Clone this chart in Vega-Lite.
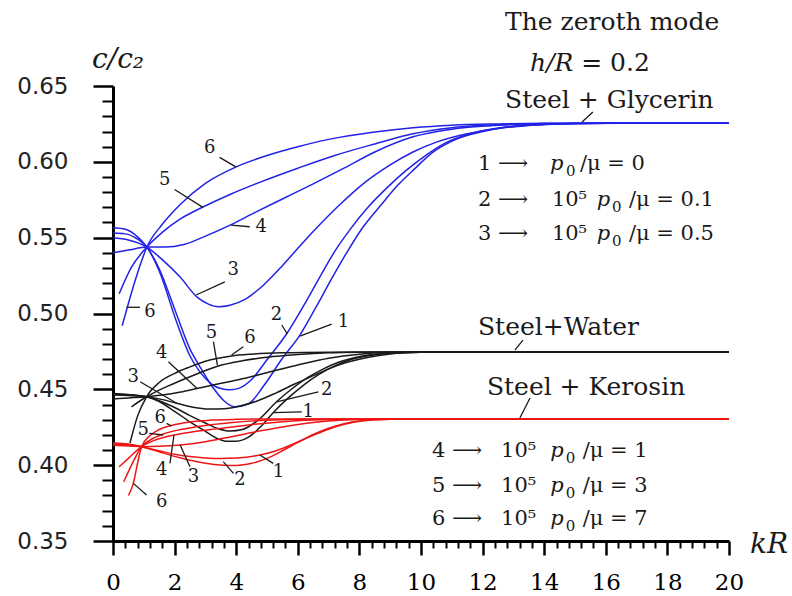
{
  "$schema": "https://vega.github.io/schema/vega-lite/v6.json",
  "width": 616,
  "height": 455,
  "autosize": "none",
  "padding": {"left": 113, "top": 86, "right": 63, "bottom": 55},
  "background": "white",
  "config": {"view": {"stroke": null}},
  "datasets": {
    "curves": [
      {"material":"Glycerin","curve":1,"kR":0,"c":0.5565},{"material":"Glycerin","curve":1,"kR":0.4,"c":0.5555},{"material":"Glycerin","curve":1,"kR":0.8,"c":0.5505},{"material":"Glycerin","curve":1,"kR":1.1,"c":0.5438},{"material":"Glycerin","curve":1,"kR":1.5,"c":0.5295},{"material":"Glycerin","curve":1,"kR":2.08,"c":0.4985},{"material":"Glycerin","curve":1,"kR":2.5,"c":0.4765},{"material":"Glycerin","curve":1,"kR":2.82,"c":0.465},{"material":"Glycerin","curve":1,"kR":3.2,"c":0.4525},{"material":"Glycerin","curve":1,"kR":3.6,"c":0.4425},{"material":"Glycerin","curve":1,"kR":3.96,"c":0.4385},{"material":"Glycerin","curve":1,"kR":4.4,"c":0.4405},{"material":"Glycerin","curve":1,"kR":4.9,"c":0.4525},{"material":"Glycerin","curve":1,"kR":5.5,"c":0.4705},{"material":"Glycerin","curve":1,"kR":6.07,"c":0.4858},{"material":"Glycerin","curve":1,"kR":6.6,"c":0.5045},{"material":"Glycerin","curve":1,"kR":7.1,"c":0.523},{"material":"Glycerin","curve":1,"kR":7.6,"c":0.5405},{"material":"Glycerin","curve":1,"kR":8.12,"c":0.557},{"material":"Glycerin","curve":1,"kR":8.7,"c":0.5715},{"material":"Glycerin","curve":1,"kR":9.22,"c":0.584},{"material":"Glycerin","curve":1,"kR":9.8,"c":0.5955},{"material":"Glycerin","curve":1,"kR":10.4,"c":0.6065},{"material":"Glycerin","curve":1,"kR":11.1,"c":0.6145},{"material":"Glycerin","curve":1,"kR":11.9,"c":0.6195},{"material":"Glycerin","curve":1,"kR":12.7,"c":0.6226},{"material":"Glycerin","curve":1,"kR":13.7,"c":0.6244},{"material":"Glycerin","curve":1,"kR":15,"c":0.6252},{"material":"Glycerin","curve":1,"kR":16.5,"c":0.6255},{"material":"Glycerin","curve":1,"kR":20,"c":0.6255},
      {"material":"Glycerin","curve":2,"kR":0,"c":0.553},{"material":"Glycerin","curve":2,"kR":0.4,"c":0.5525},{"material":"Glycerin","curve":2,"kR":0.8,"c":0.549},{"material":"Glycerin","curve":2,"kR":1.1,"c":0.5438},{"material":"Glycerin","curve":2,"kR":1.5,"c":0.528},{"material":"Glycerin","curve":2,"kR":2.08,"c":0.4935},{"material":"Glycerin","curve":2,"kR":2.5,"c":0.472},{"material":"Glycerin","curve":2,"kR":2.82,"c":0.4615},{"material":"Glycerin","curve":2,"kR":3.2,"c":0.4535},{"material":"Glycerin","curve":2,"kR":3.5,"c":0.4505},{"material":"Glycerin","curve":2,"kR":3.8,"c":0.4497},{"material":"Glycerin","curve":2,"kR":4.1,"c":0.4508},{"material":"Glycerin","curve":2,"kR":4.5,"c":0.4565},{"material":"Glycerin","curve":2,"kR":5,"c":0.4695},{"material":"Glycerin","curve":2,"kR":5.65,"c":0.487},{"material":"Glycerin","curve":2,"kR":6.2,"c":0.5055},{"material":"Glycerin","curve":2,"kR":6.7,"c":0.5235},{"material":"Glycerin","curve":2,"kR":7.2,"c":0.541},{"material":"Glycerin","curve":2,"kR":7.7,"c":0.5555},{"material":"Glycerin","curve":2,"kR":8.3,"c":0.5705},{"material":"Glycerin","curve":2,"kR":8.9,"c":0.583},{"material":"Glycerin","curve":2,"kR":9.5,"c":0.594},{"material":"Glycerin","curve":2,"kR":10.1,"c":0.6035},{"material":"Glycerin","curve":2,"kR":10.8,"c":0.6125},{"material":"Glycerin","curve":2,"kR":11.6,"c":0.6185},{"material":"Glycerin","curve":2,"kR":12.4,"c":0.622},{"material":"Glycerin","curve":2,"kR":13.4,"c":0.6241},{"material":"Glycerin","curve":2,"kR":14.6,"c":0.6251},{"material":"Glycerin","curve":2,"kR":16,"c":0.6255},{"material":"Glycerin","curve":2,"kR":20,"c":0.6255},
      {"material":"Glycerin","curve":3,"kR":0,"c":0.5497},{"material":"Glycerin","curve":3,"kR":0.5,"c":0.5485},{"material":"Glycerin","curve":3,"kR":1.1,"c":0.5438},{"material":"Glycerin","curve":3,"kR":1.6,"c":0.5355},{"material":"Glycerin","curve":3,"kR":2.18,"c":0.524},{"material":"Glycerin","curve":3,"kR":2.73,"c":0.5108},{"material":"Glycerin","curve":3,"kR":3.1,"c":0.5062},{"material":"Glycerin","curve":3,"kR":3.41,"c":0.5045},{"material":"Glycerin","curve":3,"kR":3.8,"c":0.5055},{"material":"Glycerin","curve":3,"kR":4.3,"c":0.5095},{"material":"Glycerin","curve":3,"kR":4.9,"c":0.519},{"material":"Glycerin","curve":3,"kR":5.5,"c":0.5315},{"material":"Glycerin","curve":3,"kR":6.07,"c":0.5445},{"material":"Glycerin","curve":3,"kR":6.5,"c":0.554},{"material":"Glycerin","curve":3,"kR":7.3,"c":0.5705},{"material":"Glycerin","curve":3,"kR":8.12,"c":0.5855},{"material":"Glycerin","curve":3,"kR":9,"c":0.598},{"material":"Glycerin","curve":3,"kR":9.74,"c":0.6065},{"material":"Glycerin","curve":3,"kR":10.5,"c":0.613},{"material":"Glycerin","curve":3,"kR":11.5,"c":0.6185},{"material":"Glycerin","curve":3,"kR":12.5,"c":0.622},{"material":"Glycerin","curve":3,"kR":13.5,"c":0.624},{"material":"Glycerin","curve":3,"kR":14.7,"c":0.6251},{"material":"Glycerin","curve":3,"kR":16,"c":0.6255},{"material":"Glycerin","curve":3,"kR":20,"c":0.6255},
      {"material":"Glycerin","curve":4,"kR":0,"c":0.54},{"material":"Glycerin","curve":4,"kR":0.5,"c":0.5418},{"material":"Glycerin","curve":4,"kR":1.1,"c":0.5438},{"material":"Glycerin","curve":4,"kR":1.7,"c":0.5438},{"material":"Glycerin","curve":4,"kR":2.3,"c":0.5455},{"material":"Glycerin","curve":4,"kR":3,"c":0.551},{"material":"Glycerin","curve":4,"kR":3.8,"c":0.5583},{"material":"Glycerin","curve":4,"kR":4.6,"c":0.5665},{"material":"Glycerin","curve":4,"kR":5.5,"c":0.5755},{"material":"Glycerin","curve":4,"kR":6.5,"c":0.5855},{"material":"Glycerin","curve":4,"kR":7.5,"c":0.5958},{"material":"Glycerin","curve":4,"kR":8.5,"c":0.6065},{"material":"Glycerin","curve":4,"kR":9.74,"c":0.6165},{"material":"Glycerin","curve":4,"kR":11,"c":0.6215},{"material":"Glycerin","curve":4,"kR":12.2,"c":0.6237},{"material":"Glycerin","curve":4,"kR":13.5,"c":0.6249},{"material":"Glycerin","curve":4,"kR":15,"c":0.6254},{"material":"Glycerin","curve":4,"kR":16,"c":0.6255},{"material":"Glycerin","curve":4,"kR":20,"c":0.6255},
      {"material":"Glycerin","curve":5,"kR":0.2,"c":0.513},{"material":"Glycerin","curve":5,"kR":0.6,"c":0.5305},{"material":"Glycerin","curve":5,"kR":1.1,"c":0.5438},{"material":"Glycerin","curve":5,"kR":1.6,"c":0.5535},{"material":"Glycerin","curve":5,"kR":2.2,"c":0.5625},{"material":"Glycerin","curve":5,"kR":2.92,"c":0.5702},{"material":"Glycerin","curve":5,"kR":3.8,"c":0.5785},{"material":"Glycerin","curve":5,"kR":4.8,"c":0.5868},{"material":"Glycerin","curve":5,"kR":6,"c":0.5958},{"material":"Glycerin","curve":5,"kR":7.2,"c":0.6042},{"material":"Glycerin","curve":5,"kR":8.5,"c":0.6118},{"material":"Glycerin","curve":5,"kR":9.74,"c":0.6185},{"material":"Glycerin","curve":5,"kR":11,"c":0.6225},{"material":"Glycerin","curve":5,"kR":12.5,"c":0.6245},{"material":"Glycerin","curve":5,"kR":14,"c":0.6252},{"material":"Glycerin","curve":5,"kR":15.5,"c":0.6255},{"material":"Glycerin","curve":5,"kR":20,"c":0.6255},
      {"material":"Glycerin","curve":6,"kR":0.3,"c":0.492},{"material":"Glycerin","curve":6,"kR":0.7,"c":0.5205},{"material":"Glycerin","curve":6,"kR":1.1,"c":0.5438},{"material":"Glycerin","curve":6,"kR":1.6,"c":0.5588},{"material":"Glycerin","curve":6,"kR":2.2,"c":0.5722},{"material":"Glycerin","curve":6,"kR":3,"c":0.5858},{"material":"Glycerin","curve":6,"kR":4,"c":0.5967},{"material":"Glycerin","curve":6,"kR":5,"c":0.6042},{"material":"Glycerin","curve":6,"kR":6,"c":0.61},{"material":"Glycerin","curve":6,"kR":7,"c":0.6148},{"material":"Glycerin","curve":6,"kR":8.5,"c":0.6197},{"material":"Glycerin","curve":6,"kR":9.74,"c":0.6225},{"material":"Glycerin","curve":6,"kR":11,"c":0.6242},{"material":"Glycerin","curve":6,"kR":12.5,"c":0.625},{"material":"Glycerin","curve":6,"kR":14,"c":0.6254},{"material":"Glycerin","curve":6,"kR":15.5,"c":0.6255},{"material":"Glycerin","curve":6,"kR":20,"c":0.6255},

      {"material":"Water","curve":1,"kR":0,"c":0.4472},{"material":"Water","curve":1,"kR":0.5,"c":0.4466},{"material":"Water","curve":1,"kR":1.09,"c":0.4451},{"material":"Water","curve":1,"kR":1.5,"c":0.442},{"material":"Water","curve":1,"kR":2,"c":0.4355},{"material":"Water","curve":1,"kR":2.5,"c":0.4285},{"material":"Water","curve":1,"kR":3,"c":0.4223},{"material":"Water","curve":1,"kR":3.4,"c":0.4175},{"material":"Water","curve":1,"kR":3.7,"c":0.4157},{"material":"Water","curve":1,"kR":4,"c":0.4158},{"material":"Water","curve":1,"kR":4.4,"c":0.4185},{"material":"Water","curve":1,"kR":4.8,"c":0.4255},{"material":"Water","curve":1,"kR":5.2,"c":0.4346},{"material":"Water","curve":1,"kR":5.7,"c":0.4445},{"material":"Water","curve":1,"kR":6.2,"c":0.453},{"material":"Water","curve":1,"kR":6.7,"c":0.46},{"material":"Water","curve":1,"kR":7.2,"c":0.4655},{"material":"Water","curve":1,"kR":7.7,"c":0.4695},{"material":"Water","curve":1,"kR":8.3,"c":0.4722},{"material":"Water","curve":1,"kR":9,"c":0.4738},{"material":"Water","curve":1,"kR":10,"c":0.4745},{"material":"Water","curve":1,"kR":11,"c":0.4746},{"material":"Water","curve":1,"kR":20,"c":0.4746},
      {"material":"Water","curve":2,"kR":0,"c":0.4467},{"material":"Water","curve":2,"kR":0.5,"c":0.4462},{"material":"Water","curve":2,"kR":1.09,"c":0.4451},{"material":"Water","curve":2,"kR":1.5,"c":0.4425},{"material":"Water","curve":2,"kR":2,"c":0.438},{"material":"Water","curve":2,"kR":2.5,"c":0.4327},{"material":"Water","curve":2,"kR":3,"c":0.4278},{"material":"Water","curve":2,"kR":3.4,"c":0.4242},{"material":"Water","curve":2,"kR":3.8,"c":0.4225},{"material":"Water","curve":2,"kR":4.2,"c":0.4235},{"material":"Water","curve":2,"kR":4.7,"c":0.4295},{"material":"Water","curve":2,"kR":5.31,"c":0.4418},{"material":"Water","curve":2,"kR":5.8,"c":0.4502},{"material":"Water","curve":2,"kR":6.3,"c":0.4575},{"material":"Water","curve":2,"kR":6.8,"c":0.4632},{"material":"Water","curve":2,"kR":7.3,"c":0.4677},{"material":"Water","curve":2,"kR":7.8,"c":0.4707},{"material":"Water","curve":2,"kR":8.4,"c":0.473},{"material":"Water","curve":2,"kR":9.2,"c":0.4742},{"material":"Water","curve":2,"kR":10.2,"c":0.4746},{"material":"Water","curve":2,"kR":20,"c":0.4746},
      {"material":"Water","curve":3,"kR":0,"c":0.4462},{"material":"Water","curve":3,"kR":0.5,"c":0.4459},{"material":"Water","curve":3,"kR":1.09,"c":0.4451},{"material":"Water","curve":3,"kR":1.5,"c":0.4437},{"material":"Water","curve":3,"kR":2.07,"c":0.4408},{"material":"Water","curve":3,"kR":2.6,"c":0.4382},{"material":"Water","curve":3,"kR":3.1,"c":0.437},{"material":"Water","curve":3,"kR":3.6,"c":0.4372},{"material":"Water","curve":3,"kR":4.1,"c":0.4388},{"material":"Water","curve":3,"kR":4.7,"c":0.4425},{"material":"Water","curve":3,"kR":5.3,"c":0.4477},{"material":"Water","curve":3,"kR":5.9,"c":0.4535},{"material":"Water","curve":3,"kR":6.5,"c":0.459},{"material":"Water","curve":3,"kR":7,"c":0.4635},{"material":"Water","curve":3,"kR":7.6,"c":0.4678},{"material":"Water","curve":3,"kR":8.3,"c":0.4712},{"material":"Water","curve":3,"kR":9,"c":0.4733},{"material":"Water","curve":3,"kR":10,"c":0.4744},{"material":"Water","curve":3,"kR":11,"c":0.4746},{"material":"Water","curve":3,"kR":20,"c":0.4746},
      {"material":"Water","curve":4,"kR":0,"c":0.4436},{"material":"Water","curve":4,"kR":0.5,"c":0.4443},{"material":"Water","curve":4,"kR":1.09,"c":0.4451},{"material":"Water","curve":4,"kR":1.6,"c":0.4462},{"material":"Water","curve":4,"kR":2.2,"c":0.4482},{"material":"Water","curve":4,"kR":2.72,"c":0.4505},{"material":"Water","curve":4,"kR":3.4,"c":0.4535},{"material":"Water","curve":4,"kR":4.2,"c":0.457},{"material":"Water","curve":4,"kR":5,"c":0.461},{"material":"Water","curve":4,"kR":6,"c":0.466},{"material":"Water","curve":4,"kR":7,"c":0.4705},{"material":"Water","curve":4,"kR":8,"c":0.4732},{"material":"Water","curve":4,"kR":9,"c":0.4744},{"material":"Water","curve":4,"kR":10,"c":0.4746},{"material":"Water","curve":4,"kR":20,"c":0.4746},
      {"material":"Water","curve":5,"kR":0.6,"c":0.4385},{"material":"Water","curve":5,"kR":1.09,"c":0.4451},{"material":"Water","curve":5,"kR":1.6,"c":0.4505},{"material":"Water","curve":5,"kR":2.2,"c":0.4558},{"material":"Water","curve":5,"kR":2.8,"c":0.4608},{"material":"Water","curve":5,"kR":3.39,"c":0.4652},{"material":"Water","curve":5,"kR":4.2,"c":0.4688},{"material":"Water","curve":5,"kR":5,"c":0.4712},{"material":"Water","curve":5,"kR":6,"c":0.473},{"material":"Water","curve":5,"kR":7,"c":0.4741},{"material":"Water","curve":5,"kR":8,"c":0.4745},{"material":"Water","curve":5,"kR":9,"c":0.4746},{"material":"Water","curve":5,"kR":20,"c":0.4746},
      {"material":"Water","curve":6,"kR":0.55,"c":0.4146},{"material":"Water","curve":6,"kR":0.8,"c":0.4325},{"material":"Water","curve":6,"kR":1.09,"c":0.4451},{"material":"Water","curve":6,"kR":1.5,"c":0.4545},{"material":"Water","curve":6,"kR":2,"c":0.4605},{"material":"Water","curve":6,"kR":2.5,"c":0.4648},{"material":"Water","curve":6,"kR":3,"c":0.4685},{"material":"Water","curve":6,"kR":3.85,"c":0.472},{"material":"Water","curve":6,"kR":4.5,"c":0.4732},{"material":"Water","curve":6,"kR":5.5,"c":0.4741},{"material":"Water","curve":6,"kR":7,"c":0.4745},{"material":"Water","curve":6,"kR":9,"c":0.4746},{"material":"Water","curve":6,"kR":20,"c":0.4746},

      {"material":"Kerosin","curve":1,"kR":0,"c":0.4146},{"material":"Kerosin","curve":1,"kR":0.5,"c":0.414},{"material":"Kerosin","curve":1,"kR":0.93,"c":0.4122},{"material":"Kerosin","curve":1,"kR":1.5,"c":0.4095},{"material":"Kerosin","curve":1,"kR":2,"c":0.4072},{"material":"Kerosin","curve":1,"kR":2.5,"c":0.4057},{"material":"Kerosin","curve":1,"kR":3,"c":0.4048},{"material":"Kerosin","curve":1,"kR":3.5,"c":0.4044},{"material":"Kerosin","curve":1,"kR":4,"c":0.4047},{"material":"Kerosin","curve":1,"kR":4.77,"c":0.4067},{"material":"Kerosin","curve":1,"kR":5.3,"c":0.4095},{"material":"Kerosin","curve":1,"kR":5.8,"c":0.4135},{"material":"Kerosin","curve":1,"kR":6.3,"c":0.418},{"material":"Kerosin","curve":1,"kR":6.8,"c":0.4222},{"material":"Kerosin","curve":1,"kR":7.3,"c":0.4258},{"material":"Kerosin","curve":1,"kR":7.8,"c":0.4283},{"material":"Kerosin","curve":1,"kR":8.5,"c":0.4299},{"material":"Kerosin","curve":1,"kR":9.5,"c":0.4304},{"material":"Kerosin","curve":1,"kR":20,"c":0.4304},
      {"material":"Kerosin","curve":2,"kR":0,"c":0.414},{"material":"Kerosin","curve":2,"kR":0.5,"c":0.4134},{"material":"Kerosin","curve":2,"kR":0.93,"c":0.4122},{"material":"Kerosin","curve":2,"kR":1.5,"c":0.4088},{"material":"Kerosin","curve":2,"kR":2,"c":0.4058},{"material":"Kerosin","curve":2,"kR":2.5,"c":0.4033},{"material":"Kerosin","curve":2,"kR":3,"c":0.4012},{"material":"Kerosin","curve":2,"kR":3.58,"c":0.4},{"material":"Kerosin","curve":2,"kR":4,"c":0.3998},{"material":"Kerosin","curve":2,"kR":4.5,"c":0.4012},{"material":"Kerosin","curve":2,"kR":5,"c":0.4045},{"material":"Kerosin","curve":2,"kR":5.5,"c":0.4095},{"material":"Kerosin","curve":2,"kR":6,"c":0.415},{"material":"Kerosin","curve":2,"kR":6.5,"c":0.4202},{"material":"Kerosin","curve":2,"kR":7,"c":0.4243},{"material":"Kerosin","curve":2,"kR":7.5,"c":0.4274},{"material":"Kerosin","curve":2,"kR":8,"c":0.4292},{"material":"Kerosin","curve":2,"kR":9,"c":0.4303},{"material":"Kerosin","curve":2,"kR":10,"c":0.4304},{"material":"Kerosin","curve":2,"kR":20,"c":0.4304},
      {"material":"Kerosin","curve":3,"kR":0,"c":0.4132},{"material":"Kerosin","curve":3,"kR":0.5,"c":0.4127},{"material":"Kerosin","curve":3,"kR":0.93,"c":0.4122},{"material":"Kerosin","curve":3,"kR":1.5,"c":0.4124},{"material":"Kerosin","curve":3,"kR":2.18,"c":0.4133},{"material":"Kerosin","curve":3,"kR":3,"c":0.4155},{"material":"Kerosin","curve":3,"kR":3.8,"c":0.4186},{"material":"Kerosin","curve":3,"kR":4.5,"c":0.4215},{"material":"Kerosin","curve":3,"kR":5.5,"c":0.4252},{"material":"Kerosin","curve":3,"kR":6.5,"c":0.4281},{"material":"Kerosin","curve":3,"kR":7.5,"c":0.4297},{"material":"Kerosin","curve":3,"kR":8.5,"c":0.4303},{"material":"Kerosin","curve":3,"kR":10,"c":0.4304},{"material":"Kerosin","curve":3,"kR":20,"c":0.4304},
      {"material":"Kerosin","curve":4,"kR":0.2,"c":0.399},{"material":"Kerosin","curve":4,"kR":0.5,"c":0.4045},{"material":"Kerosin","curve":4,"kR":0.93,"c":0.4122},{"material":"Kerosin","curve":4,"kR":1.4,"c":0.4168},{"material":"Kerosin","curve":4,"kR":1.98,"c":0.4199},{"material":"Kerosin","curve":4,"kR":2.6,"c":0.422},{"material":"Kerosin","curve":4,"kR":3.2,"c":0.4236},{"material":"Kerosin","curve":4,"kR":3.8,"c":0.425},{"material":"Kerosin","curve":4,"kR":4.6,"c":0.427},{"material":"Kerosin","curve":4,"kR":5.5,"c":0.4287},{"material":"Kerosin","curve":4,"kR":6.5,"c":0.4298},{"material":"Kerosin","curve":4,"kR":7.5,"c":0.4303},{"material":"Kerosin","curve":4,"kR":9,"c":0.4304},{"material":"Kerosin","curve":4,"kR":20,"c":0.4304},
      {"material":"Kerosin","curve":5,"kR":0.35,"c":0.389},{"material":"Kerosin","curve":5,"kR":0.6,"c":0.4},{"material":"Kerosin","curve":5,"kR":0.93,"c":0.4122},{"material":"Kerosin","curve":5,"kR":1.2,"c":0.4165},{"material":"Kerosin","curve":5,"kR":1.63,"c":0.4205},{"material":"Kerosin","curve":5,"kR":2.2,"c":0.4235},{"material":"Kerosin","curve":5,"kR":3,"c":0.4262},{"material":"Kerosin","curve":5,"kR":3.8,"c":0.428},{"material":"Kerosin","curve":5,"kR":5,"c":0.4296},{"material":"Kerosin","curve":5,"kR":6,"c":0.4302},{"material":"Kerosin","curve":5,"kR":7,"c":0.4304},{"material":"Kerosin","curve":5,"kR":20,"c":0.4304},
      {"material":"Kerosin","curve":6,"kR":0.5,"c":0.38},{"material":"Kerosin","curve":6,"kR":0.66,"c":0.388},{"material":"Kerosin","curve":6,"kR":0.8,"c":0.4015},{"material":"Kerosin","curve":6,"kR":0.93,"c":0.4122},{"material":"Kerosin","curve":6,"kR":1.2,"c":0.4195},{"material":"Kerosin","curve":6,"kR":1.5,"c":0.4235},{"material":"Kerosin","curve":6,"kR":1.9,"c":0.4262},{"material":"Kerosin","curve":6,"kR":2.5,"c":0.4285},{"material":"Kerosin","curve":6,"kR":3.2,"c":0.4297},{"material":"Kerosin","curve":6,"kR":4,"c":0.4302},{"material":"Kerosin","curve":6,"kR":5,"c":0.4304},{"material":"Kerosin","curve":6,"kR":20,"c":0.4304}
    ],
    "leaders": [
      {"kR":3.46,"c":0.6029,"kR2":3.99,"c2":0.5967},{"kR":2.0,"c":0.5818,"kR2":2.92,"c2":0.57},{"kR":3.84,"c":0.5583,"kR2":4.44,"c2":0.5572},{"kR":3.63,"c":0.5209,"kR2":2.7,"c2":0.5122},{"kR":0.44,"c":0.5041,"kR2":0.88,"c2":0.5041},{"kR":5.48,"c":0.4924,"kR2":5.66,"c2":0.4865},{"kR":7.1,"c":0.493,"kR2":6.07,"c2":0.4851},
      {"kR":4.23,"c":0.4781,"kR2":3.85,"c2":0.4726},{"kR":3.26,"c":0.4814,"kR2":3.39,"c2":0.466},{"kR":1.8,"c":0.4682,"kR2":2.72,"c2":0.4507},{"kR":0.88,"c":0.455,"kR2":2.07,"c2":0.4408},{"kR":6.67,"c":0.4484,"kR2":5.31,"c2":0.4418},{"kR":6.13,"c":0.4352,"kR2":5.2,"c2":0.4346},
      {"kR":1.74,"c":0.4276,"kR2":1.9,"c2":0.4258},{"kR":1.18,"c":0.421,"kR2":1.63,"c2":0.4199},{"kR":1.85,"c":0.4012,"kR2":1.98,"c2":0.4199},{"kR":2.5,"c":0.399,"kR2":2.18,"c2":0.4133},{"kR":3.91,"c":0.3946,"kR2":3.58,"c2":0.4023},{"kR":5.2,"c":0.4012,"kR2":4.77,"c2":0.4067},{"kR":1.09,"c":0.3803,"kR2":0.66,"c2":0.388},
      {"kR":15.58,"c":0.6328,"kR2":15.23,"c2":0.6262},{"kR":13.31,"c":0.4825,"kR2":13.05,"c2":0.4759},{"kR":13.54,"c":0.4443,"kR2":13.21,"c2":0.4311}
    ],
    "numbers": [
      {"t":"6","kR":3.14,"c":0.6089},{"t":"5","kR":1.68,"c":0.588},{"t":"4","kR":4.81,"c":0.5572},{"t":"3","kR":3.9,"c":0.5286},{"t":"6","kR":1.2,"c":0.5012},{"t":"2","kR":5.31,"c":0.499},{"t":"1","kR":7.48,"c":0.4946},
      {"t":"6","kR":4.45,"c":0.4836},{"t":"5","kR":3.2,"c":0.4869},{"t":"4","kR":1.58,"c":0.4737},{"t":"3","kR":0.66,"c":0.4583},{"t":"2","kR":6.94,"c":0.4495},{"t":"1","kR":6.34,"c":0.4352},
      {"t":"6","kR":1.53,"c":0.4309},{"t":"5","kR":0.98,"c":0.4232},{"t":"4","kR":1.58,"c":0.3968},{"t":"3","kR":2.61,"c":0.3924},{"t":"2","kR":4.12,"c":0.3902},{"t":"1","kR":5.37,"c":0.3957},{"t":"6","kR":1.58,"c":0.3759}
    ],
    "titles": [
      {"t":"The zeroth mode","kR":12.73,"c":0.6921},
      {"t":"= 0.2","kR":15.2,"c":0.6651},
      {"t":"Steel + Glycerin","kR":12.73,"c":0.6407},
      {"t":"Steel+Water","kR":11.85,"c":0.4911},
      {"t":"Steel + Kerosin","kR":12.14,"c":0.4515}
    ],
    "legendRoman": [
      {"t":"1 ⟶","kR":11.85,"c":0.5985},{"t":"/μ = 0","kR":15.16,"c":0.5985},
      {"t":"2 ⟶","kR":11.85,"c":0.5748},{"t":"10⁵","kR":14.25,"c":0.5748},{"t":"/μ = 0.1","kR":16.75,"c":0.5748},
      {"t":"3 ⟶","kR":11.85,"c":0.5524},{"t":"10⁵","kR":14.25,"c":0.5524},{"t":"/μ = 0.5","kR":16.75,"c":0.5524},
      {"t":"4 ⟶","kR":10.36,"c":0.4093},{"t":"10⁵","kR":12.6,"c":0.4093},{"t":"/μ = 1","kR":15.25,"c":0.4093},
      {"t":"5 ⟶","kR":10.36,"c":0.3863},{"t":"10⁵","kR":12.6,"c":0.3863},{"t":"/μ = 3","kR":15.25,"c":0.3863},
      {"t":"6 ⟶","kR":10.36,"c":0.3645},{"t":"10⁵","kR":12.6,"c":0.3645},{"t":"/μ = 7","kR":15.25,"c":0.3645}
    ],
    "legendSub": [
      {"t":"0","kR":14.71,"c":0.594},{"t":"0","kR":16.2,"c":0.5703},{"t":"0","kR":16.2,"c":0.5479},
      {"t":"0","kR":14.7,"c":0.4048},{"t":"0","kR":14.7,"c":0.3818},{"t":"0","kR":14.7,"c":0.36}
    ],
    "legendItalic": [
      {"t":"p","kR":14.19,"c":0.5985},{"t":"p","kR":15.71,"c":0.5748},{"t":"p","kR":15.71,"c":0.5524},
      {"t":"p","kR":14.2,"c":0.4093},{"t":"p","kR":14.2,"c":0.3863},{"t":"p","kR":14.2,"c":0.3645}
    ],
    "italicMid": [{"t":"h/R","kR":13.54,"c":0.6651}],
    "axisTitles": [{"t":"c/c₂","kR":-0.68,"c":0.6618},{"t":"kR","kR":20.68,"c":0.3421}]
  },
  "layer": [
    {
      "data": {"name": "curves"},
      "mark": {"type": "line", "interpolate": "monotone", "strokeWidth": 1.5},
      "encoding": {
        "x": {"field": "kR", "type": "quantitative", "scale": {"domain": [0, 20], "nice": false, "zero": false},
          "axis": {"orient": "bottom", "values": [0,2,4,6,8,10,12,14,16,18,20], "title": null, "grid": false,
            "tickSize": 14, "tickWidth": 2.5, "tickColor": "black", "domainWidth": 3, "domainColor": "black",
            "labelFont": "DejaVu Serif", "labelFontSize": 23, "labelColor": "black", "labelPadding": 16,
            "labelFlush": false, "labelOverlap": false}},
        "y": {"field": "c", "type": "quantitative", "scale": {"domain": [0.35, 0.65], "nice": false, "zero": false},
          "axis": {"orient": "left", "values": [0.35,0.4,0.45,0.5,0.55,0.6,0.65], "format": ".2f", "title": null, "grid": false,
            "tickSize": 20, "tickWidth": 2.5, "tickColor": "black", "domainWidth": 3, "domainColor": "black",
            "labelFont": "DejaVu Sans", "labelFontSize": 23, "labelColor": "#222", "labelPadding": 25,
            "labelFlush": false, "labelOverlap": false}},
        "color": {"field": "material", "type": "nominal",
          "scale": {"domain": ["Glycerin", "Water", "Kerosin"], "range": ["#2222e6", "#1a1a1a", "#ee1515"]}, "legend": null},
        "detail": {"field": "curve", "type": "nominal"}
      }
    },
    {
      "data": {"name": "leaders"},
      "mark": {"type": "rule", "color": "#1a1a1a", "strokeWidth": 1.3},
      "encoding": {
        "x": {"field": "kR", "type": "quantitative", "scale": {"domain": [0, 20], "nice": false, "zero": false},
          "axis": {"orient": "bottom", "values": [0.4,0.8,1.2,1.6,2.4,2.8,3.2,3.6,4.4,4.8,5.2,5.6,6.4,6.8,7.2,7.6,8.4,8.8,9.2,9.6,10.4,10.8,11.2,11.6,12.4,12.8,13.2,13.6,14.4,14.8,15.2,15.6,16.4,16.8,17.2,17.6,18.4,18.8,19.2,19.6],
            "title": null, "grid": false, "labels": false, "domain": false, "tickSize": 7, "tickWidth": 2, "tickColor": "black"}},
        "y": {"field": "c", "type": "quantitative", "scale": {"domain": [0.35, 0.65], "nice": false, "zero": false},
          "axis": {"orient": "left", "values": [0.36,0.37,0.38,0.39,0.41,0.42,0.43,0.44,0.46,0.47,0.48,0.49,0.51,0.52,0.53,0.54,0.56,0.57,0.58,0.59,0.61,0.62,0.63,0.64],
            "title": null, "grid": false, "labels": false, "domain": false, "tickSize": 11, "tickWidth": 2, "tickColor": "black"}},
        "x2": {"field": "kR2"},
        "y2": {"field": "c2"}
      }
    },
    {
      "data": {"name": "numbers"},
      "mark": {"type": "text", "font": "DejaVu Serif", "fontSize": 18, "color": "#1a1a1a", "align": "center", "baseline": "middle"},
      "encoding": {
        "x": {"field": "kR", "type": "quantitative", "scale": {"domain": [0, 20], "nice": false, "zero": false}, "axis": null},
        "y": {"field": "c", "type": "quantitative", "scale": {"domain": [0.35, 0.65], "nice": false, "zero": false}, "axis": null},
        "text": {"field": "t"}
      }
    },
    {
      "data": {"name": "titles"},
      "mark": {"type": "text", "font": "DejaVu Serif", "fontSize": 25, "color": "#1a1a1a", "align": "left", "baseline": "middle"},
      "encoding": {
        "x": {"field": "kR", "type": "quantitative", "scale": {"domain": [0, 20], "nice": false, "zero": false}, "axis": null},
        "y": {"field": "c", "type": "quantitative", "scale": {"domain": [0.35, 0.65], "nice": false, "zero": false}, "axis": null},
        "text": {"field": "t"}
      }
    },
    {
      "data": {"name": "legendRoman"},
      "mark": {"type": "text", "font": "DejaVu Serif", "fontSize": 21, "color": "#1a1a1a", "align": "left", "baseline": "middle"},
      "encoding": {
        "x": {"field": "kR", "type": "quantitative", "scale": {"domain": [0, 20], "nice": false, "zero": false}, "axis": null},
        "y": {"field": "c", "type": "quantitative", "scale": {"domain": [0.35, 0.65], "nice": false, "zero": false}, "axis": null},
        "text": {"field": "t"}
      }
    },
    {
      "data": {"name": "legendSub"},
      "mark": {"type": "text", "font": "DejaVu Serif", "fontSize": 15, "color": "#1a1a1a", "align": "left", "baseline": "middle"},
      "encoding": {
        "x": {"field": "kR", "type": "quantitative", "scale": {"domain": [0, 20], "nice": false, "zero": false}, "axis": null},
        "y": {"field": "c", "type": "quantitative", "scale": {"domain": [0.35, 0.65], "nice": false, "zero": false}, "axis": null},
        "text": {"field": "t"}
      }
    },
    {
      "data": {"name": "legendItalic"},
      "mark": {"type": "text", "font": "DejaVu Serif", "fontStyle": "italic", "fontSize": 21, "color": "#1a1a1a", "align": "left", "baseline": "middle"},
      "encoding": {
        "x": {"field": "kR", "type": "quantitative", "scale": {"domain": [0, 20], "nice": false, "zero": false}, "axis": null},
        "y": {"field": "c", "type": "quantitative", "scale": {"domain": [0.35, 0.65], "nice": false, "zero": false}, "axis": null},
        "text": {"field": "t"}
      }
    },
    {
      "data": {"name": "italicMid"},
      "mark": {"type": "text", "font": "DejaVu Serif", "fontStyle": "italic", "fontSize": 25, "color": "#1a1a1a", "align": "left", "baseline": "middle"},
      "encoding": {
        "x": {"field": "kR", "type": "quantitative", "scale": {"domain": [0, 20], "nice": false, "zero": false}, "axis": null},
        "y": {"field": "c", "type": "quantitative", "scale": {"domain": [0.35, 0.65], "nice": false, "zero": false}, "axis": null},
        "text": {"field": "t"}
      }
    },
    {
      "data": {"name": "axisTitles"},
      "mark": {"type": "text", "font": "DejaVu Serif", "fontStyle": "italic", "fontSize": 28, "color": "#1a1a1a", "align": "left", "baseline": "alphabetic"},
      "encoding": {
        "x": {"field": "kR", "type": "quantitative", "scale": {"domain": [0, 20], "nice": false, "zero": false}, "axis": null},
        "y": {"field": "c", "type": "quantitative", "scale": {"domain": [0.35, 0.65], "nice": false, "zero": false}, "axis": null},
        "text": {"field": "t"}
      }
    }
  ],
  "resolve": {"axis": {"x": "independent", "y": "independent"}}
}
